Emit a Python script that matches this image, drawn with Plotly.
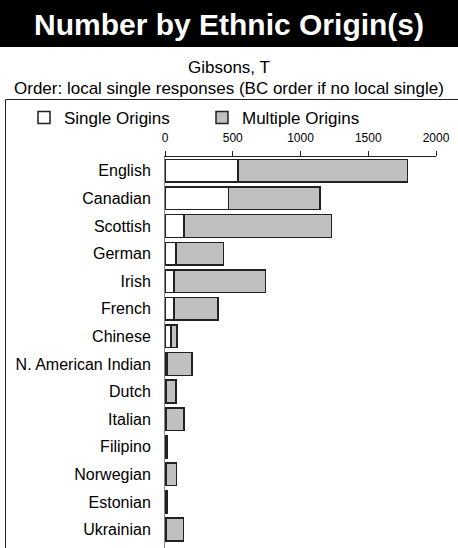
import plotly.graph_objects as go

categories = ["English", "Canadian", "Scottish", "German", "Irish", "French", "Chinese",
              "N. American Indian", "Dutch", "Italian", "Filipino", "Norwegian", "Estonian", "Ukrainian"]
single_origins = [540, 470, 140, 80, 65, 65, 45, 15, 10, 10, 10, 10, 10, 10]
multiple_origins = [1250, 675, 1090, 350, 675, 325, 45, 185, 70, 130, 10, 75, 10, 125]
x_ticks = [0, 500, 1000, 1500, 2000]

W, H = 458, 548
L, R, T, B = 165, 436, 157, 548
FONT = "Arial, Liberation Sans, sans-serif"

def px(x):
    return (x - L) / (R - L)

def py(y):
    return (B - y) / (B - T)

fig = go.Figure()
fig.add_trace(go.Bar(
    y=categories, x=single_origins, orientation="h", name="Single Origins",
    marker=dict(color="white", line=dict(color="#222222", width=1.5)),
))
fig.add_trace(go.Bar(
    y=categories, x=multiple_origins, orientation="h", name="Multiple Origins",
    marker=dict(color="#c0c0c0", line=dict(color="#222222", width=1.5)),
))

n = len(categories)
shapes = [
    dict(type="rect", xref="paper", yref="paper", x0=px(0), x1=px(W), y0=py(0), y1=py(47),
         fillcolor="black", line=dict(width=0), layer="below"),
    dict(type="line", xref="paper", yref="paper", x0=px(5.5), x1=px(W), y0=py(99.5), y1=py(99.5),
         line=dict(color="#222222", width=1)),
    dict(type="line", xref="paper", yref="paper", x0=px(5.5), x1=px(5.5), y0=py(99.5), y1=py(H),
         line=dict(color="#222222", width=1)),
]

annotations = [
    dict(text="<b>Number by Ethnic Origin(s)</b>", xref="paper", yref="paper",
         x=px(W / 2), y=py(24), xanchor="center", yanchor="middle", showarrow=False,
         font=dict(family=FONT, size=30, color="white")),
    dict(text="Gibsons, T", xref="paper", yref="paper",
         x=px(W / 2), y=py(67), xanchor="center", yanchor="middle", showarrow=False,
         font=dict(family=FONT, size=17, color="black")),
    dict(text="Order: local single responses (BC order if no local single)", xref="paper", yref="paper",
         x=px(W / 2), y=py(89), xanchor="center", yanchor="middle", showarrow=False,
         font=dict(family=FONT, size=17, color="black")),
]

fig.update_layout(
    width=W, height=H,
    margin=dict(l=L, r=W - R, t=T, b=H - B, pad=0, autoexpand=False),
    paper_bgcolor="white", plot_bgcolor="rgba(0,0,0,0)",
    barmode="stack", bargap=0.18,
    font=dict(family=FONT, color="black"),
    showlegend=True,
    legend=dict(orientation="h", xref="paper", yref="paper",
                x=px(24), y=py(118), xanchor="left", yanchor="middle",
                font=dict(family=FONT, size=17), itemwidth=30,
                entrywidth=133, entrywidthmode="pixels",
                bgcolor="rgba(0,0,0,0)", traceorder="normal"),
    xaxis=dict(range=[0, 2000], side="top", tickvals=x_ticks, ticks="outside", ticklen=5,
               tickcolor="#222222", showline=True, linecolor="#222222", linewidth=1,
               showgrid=False, zeroline=False, tickfont=dict(size=12), ticklabelstandoff=4,
               automargin=False),
    yaxis=dict(categoryorder="array", categoryarray=categories,
               range=[n - 1 + 0.67, -0.5], showline=True, linecolor="#888888", linewidth=1,
               ticks="", showgrid=False, tickfont=dict(size=16), ticklabelstandoff=10,
               automargin=False),
    shapes=shapes, annotations=annotations,
)

fig.write_html("out.html", config={"displayModeBar": False},
               post_script="document.body.style.margin='0';")
